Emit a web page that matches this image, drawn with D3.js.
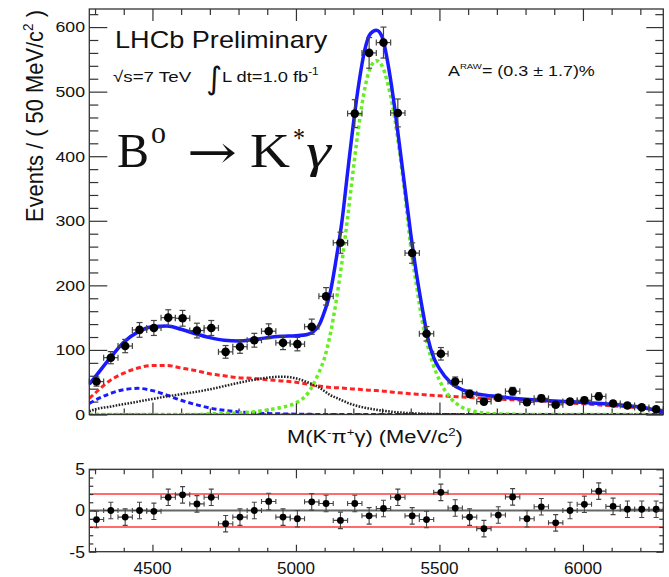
<!DOCTYPE html>
<html><head><meta charset="utf-8">
<script src="https://cdn.jsdelivr.net/npm/d3@7"></script>
<style>
body{margin:0;background:#fff}
svg{display:block}
text{font-family:"Liberation Sans",Arial,Helvetica,sans-serif;fill:#111}
</style>
</head><body>
<svg id="c" width="669" height="577"></svg>
<script>
// ---------------- DATA ----------------
const binCenters = [4305,4355,4405,4455,4505,4555,4605,4655,4705,4755,4805,4855,4905,4955,5005,5055,5105,5155,5205,5255,
                    5305,5355,5405,5455,5505,5555,5605,5655,5705,5755,5805,5855,5905,5955,6005,6055,6105,6155,6205,6255];
const counts = [51,88,106,131,134,150,149,130,134,97,105,115,129,111,109,136,183,266,466,560,
                576,467,250,125,94,51,32,20,26,36,19,25,15,20,22,28,17,14,11,8];
const countErrors = [7.1,9.4,10.3,11.4,11.6,12.2,12.2,11.4,11.6,9.8,10.2,10.7,11.4,10.5,10.4,11.7,13.5,16.3,21.6,23.7,
                     24,21.6,15.8,11.2,9.7,7.1,5.7,4.5,5.1,6,4.4,5,3.9,4.5,4.7,5.3,4.1,3.7,3.3,2.8];
const pulls = [-1.1,0.0,-0.8,0.0,-0.1,1.6,1.9,0.8,1.6,-1.6,-0.8,0.0,1.1,-0.8,-1.0,1.05,0.85,-1.2,0.85,-0.65,
               0.25,1.6,-0.65,-1.1,2.2,0.3,-0.8,-2.2,-0.55,1.65,-1.0,0.45,-1.5,0.0,0.75,2.35,0.5,0.15,0.15,0.15];
const pullError = 1;
const binHalfWidth = 25;

const curveMass   = [4280,4300,4350,4400,4450,4500,4550,4600,4650,4700,4750,4800,4850,4900,4950,5000,5040,5080,5100,5120,
                     5140,5160,5180,5200,5220,5240,5260,5280,5300,5320,5340,5360,5380,5400,5420,5440,5460,5480,5500,5540,
                     5580,5620,5660,5700,5750,5800,5850,5900,5950,6000,6050,6100,6150,6200,6250,6280];
const totalFit    = [47,58,86,112,128,136,137,132,125,119,115,114,116,119,121,122,124,138,160,190,
                     240,298,375,450,515,565,590,595,585,545,488,420,350,280,218,165,118,88,71,49,
                     38,33,30,28,25.5,23.5,22,21,20,18.5,17.3,15.8,14,11.5,7,3.5];
const signalB0    = [0,0,0,0,0,0,0,0,0,1,1.5,2.5,4,7,11,18,32,65,88,125,
                     175,235,305,380,450,505,538,548,540,512,470,410,340,260,200,145,105,75,53,25,
                     11,5,2,1,0.4,0,0,0,0,0,0,0,0,0,0,0];
const combBkg     = [25,33,52,64,72,76,76,72,68,63,60,57,56,54,52,50,47,44,43,42,
                     41.5,41,40,39.5,39,38,37.5,37,36.5,35.5,34.5,33.5,33,32,31.5,31,30,29.5,29,28,
                     27,26,25,24,23,22,21,19.5,18,16.5,15,13.5,12,10,7.5,5];
const partRecoBkg = [17,22,32,38.5,40.5,37,30,22,15.5,10,6.5,4,2.5,1.5,1,0.5,0.3,0,0,0,
                     0,0,0,0,0,0,0,0,0,0,0,0,0,0,0,0,0,0,0,0,
                     0,0,0,0,0,0,0,0,0,0,0,0,0,0,0,0];
const peakingBkg  = [5,8,12,16,20,24,28,31.5,35,39,44,49,53.5,57,58.5,56,50,42,36,30,
                     26,22,18,15,12.5,10.5,9,7.5,6,5,4,3.2,2.6,2,1.6,1.3,1,0.8,0.6,0.4,
                     0.2,0,0,0,0,0,0,0,0,0,0,0,0,0,0,0];
const otherBkgMass = [4280,6280];
const otherBkg     = [0,0];

const xMajorTicks = [4500,5000,5500,6000];
const xTickLabels = ["4500","5000","5500","6000"];
const yMajorTicks = [0,100,200,300,400,500,600];
const yTickLabels = ["0","100","200","300","400","500","600"];
const pullMajorTicks = [-5,0,5];
const pullTickLabels = ["-5","0","5"];
const pullBands = [-2,2];

// ---------------- SETUP ----------------
const SX = 1.18;
const svg = d3.select('#c');
const x  = d3.scaleLinear().domain([4280,6280]).range([89.3,663.3]);
const y  = d3.scaleLinear().domain([0,628]).range([414.5,9]);
const yr = d3.scaleLinear().domain([-5,5]).range([551.7,469.3]);

const xMinor = d3.range(4300,6280,100).filter(v=>!xMajorTicks.includes(v));
const yMinor = d3.range(20,628,20).filter(v=>v%100!==0);
const rMinor = d3.range(-4,5,1).filter(v=>v!==0);

function ticks(g, axisFn, scale, values, size){
  g.call(axisFn(scale).tickValues(values).tickSize(size).tickSizeOuter(0).tickFormat(''));
  g.select('.domain').remove();
  g.selectAll('line').attr('stroke','#333').attr('stroke-width',1.2);
}
function rich(parent, xx, yb, parts, size, opts={}){
  const t = parent.append('text').attr('font-size',size).attr('text-anchor',opts.anchor||'start');
  if(opts.family) t.style('font-family',opts.family);
  if(opts.style) t.style('font-style',opts.style);
  let cur=0;
  parts.forEach(p=>{
    const [s,o] = Array.isArray(p)?[p[0],p[1]||{}]:[p,{}];
    const sh=o.shift||0;
    const ts=t.append('tspan').text(s).attr('dy',sh-cur);
    if(o.size) ts.attr('font-size',o.size);
    if(o.style) ts.style('font-style',o.style);
    if(o.family) ts.style('font-family',o.family);
    cur=sh;
  });
  let sx = opts.sx||SX;
  if(opts.width){ const w=t.node().getBBox().width; sx=opts.width/w; }
  t.attr('transform',`translate(${xx},${yb}) scale(${sx},1)`);
  return t;
}

// ---------------- MAIN PANEL ----------------
const main = svg.append('g');
svg.append('defs').append('clipPath').attr('id','clipMain').append('rect')
  .attr('x',x(4280)).attr('y',y(628)).attr('width',x(6280)-x(4280)).attr('height',y(0)-y(628));

ticks(main.append('g').attr('transform',`translate(${x(4280)},0)`), d3.axisLeft, y, yMajorTicks, -18);
ticks(main.append('g').attr('transform',`translate(${x(4280)},0)`), d3.axisLeft, y, yMinor, -9);
ticks(main.append('g').attr('transform',`translate(${x(6280)},0)`), d3.axisRight, y, yMajorTicks, -17);
ticks(main.append('g').attr('transform',`translate(${x(6280)},0)`), d3.axisRight, y, yMinor, -8);
ticks(main.append('g').attr('transform',`translate(0,${y(0)})`), d3.axisBottom, x, xMajorTicks, -12);
ticks(main.append('g').attr('transform',`translate(0,${y(0)})`), d3.axisBottom, x, xMinor, -6);
ticks(main.append('g').attr('transform',`translate(0,${y(628)})`), d3.axisTop, x, xMajorTicks, -12);
ticks(main.append('g').attr('transform',`translate(0,${y(628)})`), d3.axisTop, x, xMinor, -6);

const cg = main.append('g').attr('clip-path','url(#clipMain)');
const line = d3.line().x(d=>x(d[0])).y(d=>y(d[1])).curve(d3.curveMonotoneX);
function drawCurve(mass, vals, color, width, dash){
  cg.append('path').datum(d3.zip(mass, vals)).attr('d',line)
    .attr('fill','none').attr('stroke',color).attr('stroke-width',width)
    .attr('stroke-dasharray',dash||null);
}
drawCurve(otherBkgMass, otherBkg, '#d040d0', 3, '3,3');
drawCurve(curveMass, partRecoBkg, '#1a1aff', 3, '5,3');
drawCurve(curveMass, combBkg, '#ff2222', 3, '5,3');
drawCurve(curveMass, peakingBkg, '#222', 2.5, '1.6,1.4');
drawCurve(curveMass, signalB0, '#66ee22', 3.5, '3.5,3');
drawCurve(curveMass, totalFit, '#1a1aff', 3.5, null);

const pts = main.append('g');
counts.forEach((c,i)=>{
  const cx=x(binCenters[i]), cy=y(c), e=countErrors[i];
  const x0=x(binCenters[i]-binHalfWidth), x1=x(binCenters[i]+binHalfWidth);
  const yt=y(c+e), yb=y(c-e);
  const g=pts.append('g').attr('stroke','#444').attr('stroke-width',1.2);
  g.append('line').attr('x1',cx).attr('x2',cx).attr('y1',yt).attr('y2',yb);
  g.append('line').attr('x1',x0).attr('x2',x1).attr('y1',cy).attr('y2',cy);
  g.append('line').attr('x1',cx-3).attr('x2',cx+3).attr('y1',yt).attr('y2',yt);
  g.append('line').attr('x1',cx-3).attr('x2',cx+3).attr('y1',yb).attr('y2',yb);
  g.append('line').attr('x1',x0).attr('x2',x0).attr('y1',cy-3).attr('y2',cy+3);
  g.append('line').attr('x1',x1).attr('x2',x1).attr('y1',cy-3).attr('y2',cy+3);
  pts.append('circle').attr('cx',cx).attr('cy',cy).attr('r',4.3).attr('fill','#000');
});

main.append('rect').attr('x',x(4280)).attr('y',y(628)).attr('width',x(6280)-x(4280)).attr('height',y(0)-y(628))
  .attr('fill','none').attr('stroke','#333').attr('stroke-width',1.3);

yMajorTicks.forEach((v,i)=>rich(main, 85, y(v)+5.3, [yTickLabels[i]], 15, {anchor:'end'}));

{
  const t = main.append('text').attr('font-size',21).attr('text-anchor','middle');
  t.append('tspan').text('Events / ( 50 MeV/c');
  t.append('tspan').text('2').attr('font-size',13).attr('dy',-9);
  t.append('tspan').text(' )').attr('dy',9);
  const w = t.node().getBBox().width;
  t.attr('transform',`translate(43,116) scale(1.12,${212/w}) rotate(-90)`);
}

rich(main, 287, 443, ['M(K',['-',{size:11,shift:-7}],['π',{shift:0}],['+',{size:11,shift:-7}],['γ) (MeV/c',{shift:0}],['2',{size:11,shift:-7}],[')',{shift:0}]], 18, {width:176});

rich(main, 115, 48.3, ['LHCb Preliminary'], 23, {width:213});
rich(main, 113, 82, ['√s=7 TeV'], 15.5, {width:79});
rich(main, 206, 89, ['∫'], 31, {sx:1.0, family:'"DejaVu Sans",sans-serif'});
rich(main, 222, 82, ['L dt=1.0 fb',['-1',{size:10,shift:-7}]], 15.5, {});
rich(main, 448, 76, ['A',['RAW',{size:8,shift:-7}],['= (0.3 ± 1.7)%',{shift:0}]], 15, {width:147});

const serif = '"Liberation Serif","Times New Roman",serif';
rich(main, 117, 167, ['B'], 49, {family:serif, width:32});
rich(main, 151, 143, ['0'], 23, {family:serif, width:15});
rich(main, 187, 168, ['→'], 46, {family:'"DejaVu Serif",serif', width:50});
rich(main, 250, 167, ['K'], 49, {family:serif, width:40});
rich(main, 293, 147, ['*'], 28, {family:serif, width:12});
rich(main, 306, 167, ['γ'], 49, {family:serif, style:'italic', width:27});

// ---------------- PULL PANEL ----------------
const pull = svg.append('g');
pull.append('defs').append('clipPath').attr('id','clipPull').append('rect')
  .attr('x',x(4280)).attr('y',yr(5)).attr('width',x(6280)-x(4280)).attr('height',yr(-5)-yr(5));
const pc = pull.append('g').attr('clip-path','url(#clipPull)');
pullBands.forEach(b=>{
  pc.append('line').attr('x1',x(4280)).attr('x2',x(6280)).attr('y1',yr(b)).attr('y2',yr(b))
    .attr('stroke','#ff3b3b').attr('stroke-width',1.5);
});
pc.append('line').attr('x1',x(4280)).attr('x2',x(6280)).attr('y1',yr(0)).attr('y2',yr(0))
  .attr('stroke','#666').attr('stroke-width',2);

ticks(pull.append('g').attr('transform',`translate(${x(4280)},0)`), d3.axisLeft, yr, pullMajorTicks, -7);
ticks(pull.append('g').attr('transform',`translate(${x(4280)},0)`), d3.axisLeft, yr, rMinor, -4);
ticks(pull.append('g').attr('transform',`translate(${x(6280)},0)`), d3.axisRight, yr, pullMajorTicks, -7);
ticks(pull.append('g').attr('transform',`translate(${x(6280)},0)`), d3.axisRight, yr, rMinor, -4);
ticks(pull.append('g').attr('transform',`translate(0,${yr(-5)})`), d3.axisBottom, x, xMajorTicks, -7);
ticks(pull.append('g').attr('transform',`translate(0,${yr(-5)})`), d3.axisBottom, x, xMinor, -4);
ticks(pull.append('g').attr('transform',`translate(0,${yr(5)})`), d3.axisTop, x, xMajorTicks, -9);
ticks(pull.append('g').attr('transform',`translate(0,${yr(5)})`), d3.axisTop, x, xMinor, -5);

pulls.forEach((p,i)=>{
  const cx=x(binCenters[i]), cy=yr(p);
  const x0=x(binCenters[i]-binHalfWidth), x1=x(binCenters[i]+binHalfWidth);
  const yt=yr(p+pullError), yb=yr(p-pullError);
  const g=pc.append('g').attr('stroke','#444').attr('stroke-width',1.1);
  g.append('line').attr('x1',cx).attr('x2',cx).attr('y1',yt).attr('y2',yb);
  g.append('line').attr('x1',x0).attr('x2',x1).attr('y1',cy).attr('y2',cy);
  g.append('line').attr('x1',cx-2.5).attr('x2',cx+2.5).attr('y1',yt).attr('y2',yt);
  g.append('line').attr('x1',cx-2.5).attr('x2',cx+2.5).attr('y1',yb).attr('y2',yb);
  g.append('line').attr('x1',x0).attr('x2',x0).attr('y1',cy-2.5).attr('y2',cy+2.5);
  g.append('line').attr('x1',x1).attr('x2',x1).attr('y1',cy-2.5).attr('y2',cy+2.5);
  pc.append('circle').attr('cx',cx).attr('cy',cy).attr('r',3.4).attr('fill','#000');
});

pull.append('rect').attr('x',x(4280)).attr('y',yr(5)).attr('width',x(6280)-x(4280)).attr('height',yr(-5)-yr(5))
  .attr('fill','none').attr('stroke','#333').attr('stroke-width',1.3);

pullMajorTicks.forEach((v,i)=>rich(pull, 85, yr(v)+5.8, [pullTickLabels[i]], 16, {anchor:'end', sx:1.1}));
xMajorTicks.forEach((v,i)=>rich(pull, x(v), 573.5, [xTickLabels[i]], 16, {anchor:'middle', sx:1.07}));
</script>
</body></html>
